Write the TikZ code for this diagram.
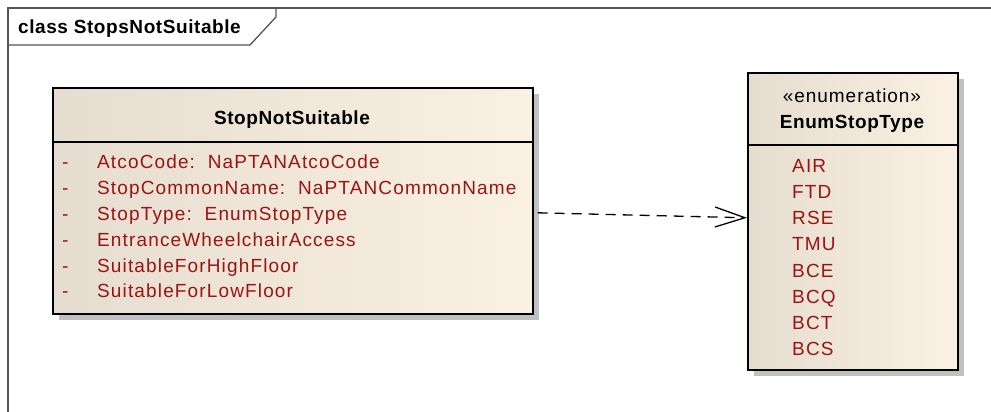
\documentclass[tikz,border=0pt]{standalone}
\usepackage{fontspec}
\setmainfont{Liberation Sans}
\newfontfamily\attrfont{Liberation Sans}[LetterSpace=6]
\newfontfamily\stereofont{Liberation Sans}[LetterSpace=5]
\newfontfamily\headfont{Liberation Sans}[LetterSpace=3]
\usetikzlibrary{arrows.meta,shadows}

\definecolor{umlred}{RGB}{155,20,20}
\definecolor{creamL}{RGB}{229,221,207}
\definecolor{creamR}{RGB}{251,241,227}
\definecolor{shadowgray}{RGB}{192,192,192}
\definecolor{framegray}{RGB}{85,85,85}

\begin{document}
\begin{tikzpicture}[x=1pt,y=-1pt,
  framestyle/.style={draw=framegray, line width=1.3pt},
  classbox/.style={draw=black, line width=1.6pt,
    left color=creamL, middle color=creamR, right color=creamR,
    drop shadow={fill=shadowgray, opacity=1, shadow xshift=6pt, shadow yshift=-6pt},
    inner sep=0pt, anchor=north west},
  sepline/.style={draw=black, line width=1.3pt},
  headtext/.style={inner sep=0pt, anchor=base, font=\headfont\bfseries\fontsize{19}{22}\selectfont},
  stereotext/.style={inner sep=0pt, anchor=base, font=\stereofont\fontsize{19}{22}\selectfont},
  attrtext/.style={inner sep=0pt, anchor=base west, text=umlred, font=\attrfont\fontsize{19}{22}\selectfont},
  depline/.style={draw=black, line width=1.3pt, dash pattern=on 10pt off 7pt,
    -{Straight Barb[length=30pt, width=20pt, line width=1.3pt]}}]

% page size
\useasboundingbox (0,0) rectangle (991,412);

% diagram frame and its name tab
\draw[framestyle] (8,412) -- (8,8) -- (991,8);
\draw[framestyle] (8,45) -- (250,45) -- (276,17) -- (276,8);
\node[inner sep=0pt, anchor=base west, font=\headfont\bfseries\fontsize{19}{22}\selectfont]
  (frametitle) at (18,33.3) {class StopsNotSuitable};

% class StopNotSuitable
\node[classbox, minimum width=480pt, minimum height=226pt] (cls) at (52,87) {};
\draw[sepline] ([yshift=-55pt]cls.north west) -- ([yshift=-55pt]cls.north east);
\node[headtext] (clsname) at (292,124.3) {StopNotSuitable};
\foreach \yy in {168.3,194.3,220.2,246.1,272.0,297.9}
  \node[attrtext] at (62,\yy) {-};
\node[attrtext] (a1) at (97,168.3) {AtcoCode:\ \ NaPTANAtcoCode};
\node[attrtext] (a2) at (97,194.3) {StopCommonName:\ \ NaPTANCommonName};
\node[attrtext] (a3) at (97,220.2) {StopType:\ \ EnumStopType};
\node[attrtext] (a4) at (97,246.1) {EntranceWheelchairAccess};
\node[attrtext] (a5) at (97,272.0) {SuitableForHighFloor};
\node[attrtext] (a6) at (97,297.9) {SuitableForLowFloor};

% enumeration EnumStopType
\node[classbox, minimum width=210pt, minimum height=297pt] (enum) at (747,72) {};
\draw[sepline] ([yshift=-73pt]enum.north west) -- ([yshift=-73pt]enum.north east);
\node[stereotext] (stereo) at (852,102.7) {«enumeration»};
\node[headtext] (enumname) at (852,128.3) {EnumStopType};
\node[attrtext] (v1) at (792,172.6) {AIR};
\node[attrtext] (v2) at (792,198.7) {FTD};
\node[attrtext] (v3) at (792,224.8) {RSE};
\node[attrtext] (v4) at (792,250.9) {TMU};
\node[attrtext] (v5) at (792,277.0) {BCE};
\node[attrtext] (v6) at (792,303.1) {BCQ};
\node[attrtext] (v7) at (792,329.2) {BCT};
\node[attrtext] (v8) at (792,355.3) {BCS};

% dependency from the class to the enumeration
\draw[depline] ([xshift=4pt,yshift=-12pt]cls.east) -- ([yshift=3.5pt]enum.west);
\end{tikzpicture}
\end{document}
